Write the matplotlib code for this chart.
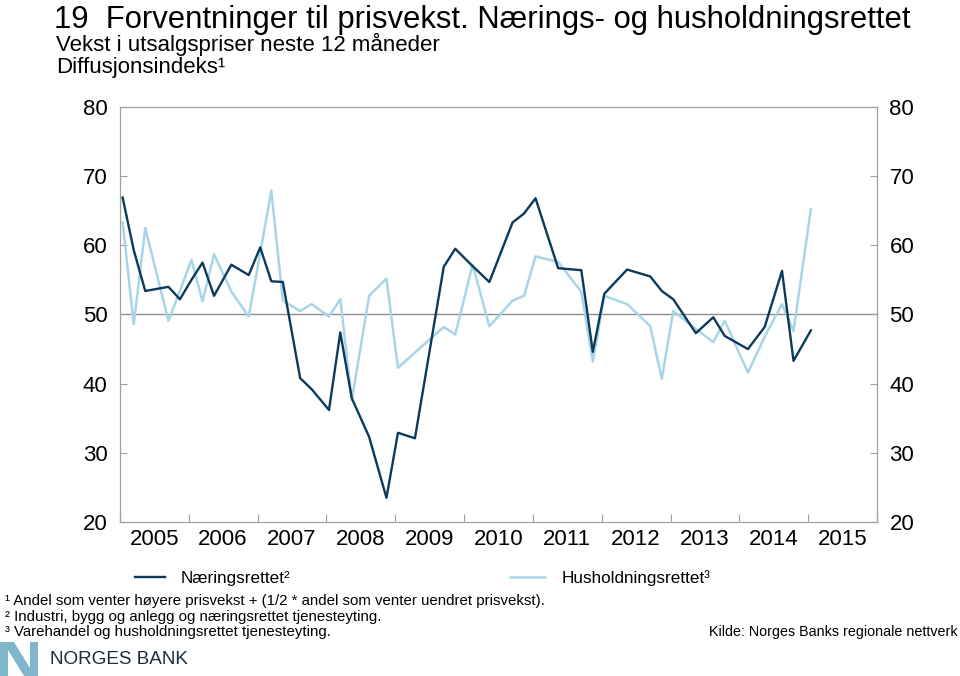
import numpy as np
import pandas as pd
import matplotlib
matplotlib.use("Agg")
import matplotlib.pyplot as plt
import matplotlib.dates as mdates
from matplotlib.lines import Line2D
from matplotlib.patches import Polygon

plt.rcParams["font.family"] = ["Liberation Sans", "DejaVu Sans"]

# survey rounds (month of each observation)
dates = ["2005-01", "2005-03", "2005-05", "2005-09", "2005-11",
         "2006-01", "2006-03", "2006-05", "2006-08", "2006-11",
         "2007-01", "2007-03", "2007-05", "2007-08", "2007-10",
         "2008-01", "2008-03", "2008-05", "2008-08", "2008-11",
         "2009-01", "2009-04", "2009-09", "2009-11",
         "2010-02", "2010-05", "2010-09", "2010-11",
         "2011-01", "2011-05", "2011-09", "2011-11",
         "2012-01", "2012-05", "2012-09", "2012-11",
         "2013-01", "2013-05", "2013-08", "2013-10",
         "2014-02", "2014-05", "2014-08", "2014-10",
         "2015-01"]

naering = [66.9, 59.3, 53.4, 54.0, 52.2,
           55.0, 57.5, 52.7, 57.2, 55.7,
           59.7, 54.8, 54.7, 40.8, 39.2,
           36.2, 47.4, 37.9, 32.3, 23.5,
           32.9, 32.1, 56.9, 59.5,
           57.0, 54.7, 63.3, 64.6,
           66.8, 56.7, 56.4, 44.6,
           53.0, 56.5, 55.5, 53.4,
           52.2, 47.3, 49.6, 46.9,
           45.0, 48.2, 56.3, 43.3,
           47.7]

husholdning = [63.3, 48.6, 62.5, 49.1, 53.4,
               57.9, 51.9, 58.7, 53.3, 49.7,
               58.9, 67.9, 52.0, 50.5, 51.5,
               49.7, 52.2, 37.6, 52.7, 55.2,
               42.3, 44.5, 48.2, 47.1,
               57.2, 48.3, 52.0, 52.7,
               58.4, 57.6, 53.3, 43.2,
               52.7, 51.5, 48.3, 40.7,
               50.5, 47.9, 46.0, 49.1,
               41.6, 46.8, 51.5, 47.6,
               65.2]

years = list(range(2005, 2016))
yticks = [20, 30, 40, 50, 60, 70, 80]

DARK = "#0b3a5c"
LIGHT = "#a9d5e8"
GREY = "#a0a0a0"

x = pd.to_datetime(dates) + pd.Timedelta(days=14)

W, H = 960, 676
fig = plt.figure(figsize=(W / 100, H / 100), dpi=100)


def fx(px):
    return px / W


def fy(py):
    return 1 - py / H


ax = fig.add_axes([fx(120), fy(522), fx(877) - fx(120), fy(107) - fy(522)])

ax.axhline(50, color="#8c8c8c", linewidth=1.0, zorder=1)
ax.plot(x, husholdning, color=LIGHT, linewidth=1.8, zorder=2)
ax.plot(x, naering, color=DARK, linewidth=1.7, zorder=3)

ax.set_xlim(pd.Timestamp("2005-01-01"), pd.Timestamp("2016-01-01"))
ax.set_ylim(20, 80)
ax.set_yticks(yticks)

ax.xaxis.set_major_locator(mdates.YearLocator())
ax.xaxis.set_major_formatter(plt.NullFormatter())
ax.set_xticks([pd.Timestamp(f"{y}-07-02") for y in years], minor=True)
ax.set_xticklabels([str(y) for y in years], minor=True)

ax.tick_params(axis="x", which="major", direction="in", length=6, width=0.8, color=GREY)
ax.tick_params(axis="x", which="minor", length=0, pad=5, labelsize=16)
ax.tick_params(axis="y", direction="in", length=5, width=0.8, color=GREY,
               right=True, labelright=True, labelsize=16, pad=9)

for s in ax.spines.values():
    s.set_color(GREY)
    s.set_linewidth(0.9)

# titles
fig.text(fx(54), fy(28), "19  Forventninger til prisvekst. Nærings- og husholdningsrettet",
         fontsize=22.3, ha="left", va="baseline")
fig.text(fx(56), fy(51), "Vekst i utsalgspriser neste 12 måneder",
         fontsize=16, ha="left", va="baseline")
fig.text(fx(56), fy(73), "Diffusjonsindeks¹",
         fontsize=16, ha="left", va="baseline")

# legend
fig.add_artist(Line2D([fx(135), fx(165)], [fy(577), fy(577)], color=DARK, linewidth=1.7))
fig.text(fx(181), fy(583), "Næringsrettet²", fontsize=12.3, ha="left", va="baseline")
fig.add_artist(Line2D([fx(510), fx(545)], [fy(577), fy(577)], color=LIGHT, linewidth=1.8))
fig.text(fx(562), fy(583), "Husholdningsrettet³", fontsize=12.3, ha="left", va="baseline")

# footnotes
notes = ["¹ Andel som venter høyere prisvekst + (1/2 * andel som venter uendret prisvekst).",
         "² Industri, bygg og anlegg og næringsrettet tjenesteyting.",
         "³ Varehandel og husholdningsrettet tjenesteyting."]
for i, t in enumerate(notes):
    fig.text(fx(5), fy(605 + i * 15.5), t, fontsize=10.8, ha="left", va="baseline")
fig.text(fx(958), fy(636), "Kilde: Norges Banks regionale nettverk",
         fontsize=10.3, ha="right", va="baseline")

# logo
logo = [(0, 642), (14, 642), (30, 668), (30, 642), (38, 642), (38, 676),
        (24, 676), (8, 650), (8, 676), (0, 676)]
fig.add_artist(Polygon([(fx(a), fy(b)) for a, b in logo], closed=True,
                       facecolor="#7fb6ca", edgecolor="none", transform=fig.transFigure))
fig.text(fx(50), fy(664), "NORGES BANK", fontsize=13.6, color="#1c2c3c",
         ha="left", va="baseline")

fig.savefig("out.png", dpi=100)
